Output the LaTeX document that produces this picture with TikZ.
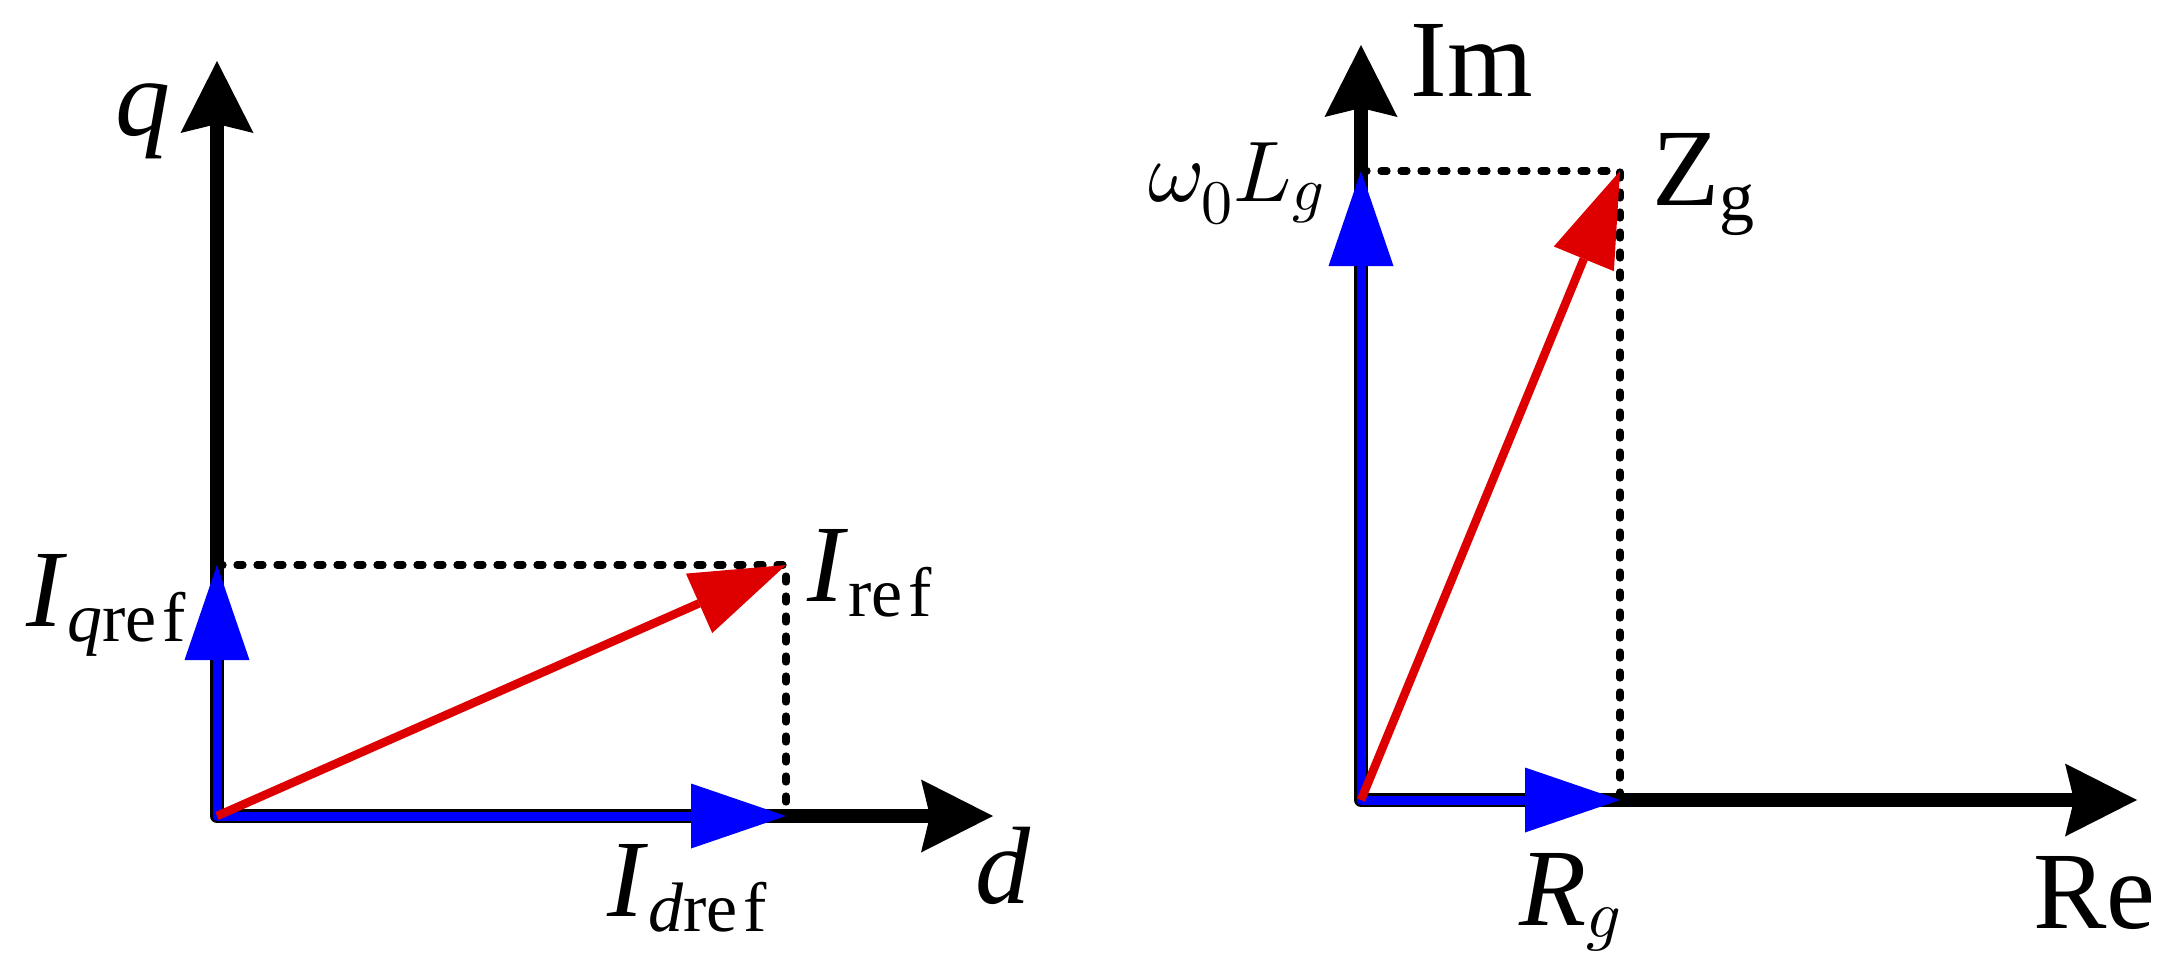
\documentclass[tikz,border=0pt]{standalone}
\usepackage{fontspec}
\setmainfont{Liberation Serif}
\usetikzlibrary{arrows.meta}
\DeclareFontShape{OML}{cmm}{m}{it}{<->cmmi10}{}
\DeclareFontShape{OT1}{cmr}{m}{n}{<->cmr10}{}
\DeclareMathSizes{55}{55}{34}{24}
\DeclareMathSizes{43}{43}{31}{22}
\definecolor{vred}{RGB}{222,0,0}
\definecolor{vblue}{RGB}{0,0,255}
\newcommand{\mainsz}{\fontsize{55}{60}\selectfont}
\newcommand{\wsz}{\fontsize{43}{50}\selectfont}
\newcommand{\sbx}[1]{\raisebox{-7.5pt}{\fontsize{35}{40}\selectfont #1}}
\tikzset{
  axtip/.tip={Stealth[length=36pt,width=36.5pt,inset=4.5pt,line width=0pt]},
  vtip/.tip={Triangle[length=47.5pt,width=32.5pt,line width=0pt]},
  axisline/.style={draw=black,line width=7pt,line join=round,arrows={axtip-axtip}},
  bluevec/.style={draw=vblue,line width=4.5pt,line join=round,arrows={vtip-vtip}},
  redvec/.style={draw=vred,line width=4.25pt,arrows={-vtip}},
  dashline/.style={draw=black,line width=3.6pt,dash pattern=on 3pt off 7pt,line cap=round},
  lbl/.style={anchor=base west,inner sep=0pt,font=\mainsz}
}
\begin{document}
\begin{tikzpicture}[x=0.5pt,y=-0.5pt]
\useasboundingbox (0,0) rectangle (2175,975);
% ---------- left diagram ----------
\coordinate (O1) at (217,816);
\coordinate (QT) at (217,61);
\coordinate (DT) at (993,816);
\coordinate (QV) at (217,565);
\coordinate (DV) at (786,816);
\coordinate (IR) at (786,565);
\draw[dashline] (QV) -- (IR) -- (DV);
\draw[axisline] (QT) -- (O1) -- (DT);
\draw[bluevec] (QV) -- (O1) -- (DV);
\draw[redvec] (O1) -- (IR);
\node[lbl] (lq) at (115,135) {\textit{q}};
\node[lbl] (liq) at (26,626) {\textit{I}\sbx{\textit{q}re\kern3pt f}};
\node[lbl] (lir) at (807,601) {\textit{I}\sbx{re\kern3pt f}};
\node[lbl] (lid) at (607,916) {\textit{I}\sbx{\textit{d}re\kern3pt f}};
\node[lbl] (ld) at (975,903) {\textit{d}};
% ---------- right diagram ----------
\coordinate (O2) at (1361,800);
\coordinate (IT) at (1361,45);
\coordinate (RT) at (2137,800);
\coordinate (IV) at (1361,171);
\coordinate (RV) at (1620,800);
\coordinate (ZG) at (1620,171);
\draw[dashline] (IV) -- (ZG) -- (RV);
\draw[axisline] (IT) -- (O2) -- (RT);
\draw[bluevec] (IV) -- (O2) -- (RV);
\draw[redvec] (O2) -- (ZG);
\node[lbl] (lim) at (1410,96) {Im};
\node[lbl,font=\wsz] (lwl) at (1148,201) {$\omega_0L_g$};
\node[lbl] (lzg) at (1652,205) {Z\sbx{g}};
\node[lbl] (lrg) at (1519,925) {\textit{R}${}_g$};
\node[lbl] (lre) at (2033,928) {Re};
\end{tikzpicture}
\end{document}
